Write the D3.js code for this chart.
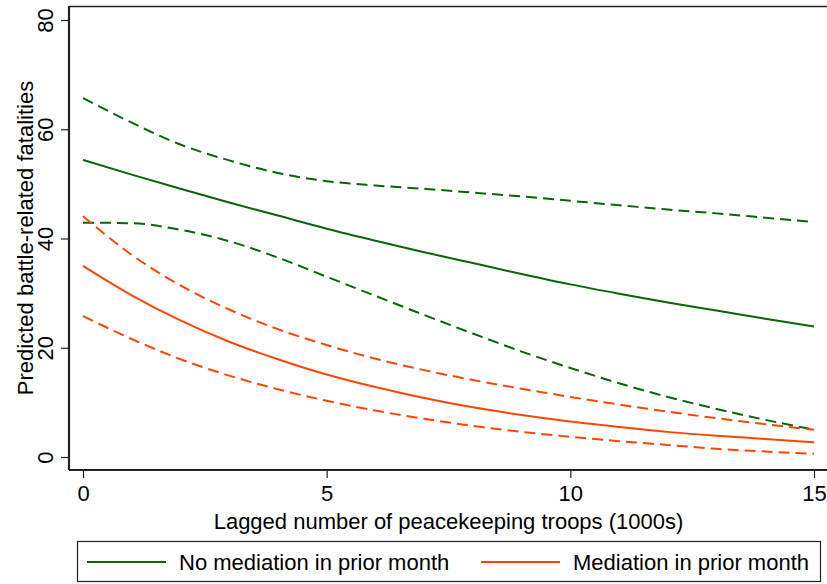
<!DOCTYPE html>
<html>
<head>
<meta charset="utf-8">
<script src="https://cdn.jsdelivr.net/npm/d3@7"></script>
<style>
  body { margin: 0; background: #fff; }
  text { font-family: "Liberation Sans", Arial, Helvetica, sans-serif; fill: #000; }
</style>
</head>
<body>
<div id="chart"></div>
<script>
// troops (1000s)
const troops = [0, 1, 2, 3, 4, 5, 6, 7, 8, 9, 10, 11, 12, 13, 14, 15];

// no mediation in prior month
const noMedFit   = [54.4, 51.7, 49.1, 46.6, 44.2, 41.8, 39.6, 37.5, 35.5, 33.5, 31.6, 29.9, 28.3, 26.8, 25.3, 23.9];
const noMedUpper = [65.7, 61.2, 57.2, 54.3, 52.0, 50.5, 49.7, 49.1, 48.4, 47.7, 46.9, 46.1, 45.3, 44.6, 43.8, 43.0];
const noMedLower = [42.9, 42.8, 41.6, 39.5, 36.5, 33.0, 29.5, 26.0, 22.6, 19.3, 16.3, 13.5, 11.0, 8.8, 6.8, 5.0];

// mediation in prior month
const medFit   = [35.0, 29.6, 25.0, 21.1, 17.9, 15.1, 12.8, 10.8, 9.1, 7.7, 6.5, 5.5, 4.6, 3.9, 3.3, 2.7];
const medUpper = [44.1, 37.0, 31.4, 27.0, 23.4, 20.5, 18.0, 15.9, 14.1, 12.5, 11.0, 9.6, 8.3, 7.1, 6.0, 5.0];
const medLower = [25.8, 21.6, 17.9, 14.9, 12.4, 10.3, 8.5, 7.0, 5.7, 4.6, 3.7, 2.9, 2.2, 1.5, 1.0, 0.6];

const xTicks = [0, 5, 10, 15];
const yTicks = [0, 20, 40, 60, 80];

const green = "#0a640a";
const orange = "#ff4500";

const W = 827, H = 584;
const svg = d3.select("#chart").append("svg")
    .attr("width", W)
    .attr("height", H);

const x = d3.scaleLinear().domain([0, 15]).range([83, 814]);
const y = d3.scaleLinear().domain([0, 80]).range([457, 20]);

const fs = 22;

// plot frame (top border) and axes
svg.append("line")
    .attr("x1", 69).attr("x2", W).attr("y1", 6.5).attr("y2", 6.5)
    .attr("stroke", "#222").attr("stroke-width", 1.6);

const xAxis = svg.append("g")
    .attr("transform", "translate(0,470)")
    .call(d3.axisBottom(x).tickValues(xTicks).tickSize(8).tickPadding(6).tickSizeOuter(0));
xAxis.select(".domain").attr("d", `M69,0H${W}`).attr("stroke", "#222").attr("stroke-width", 2.2);
xAxis.selectAll(".tick line").attr("stroke", "#222").attr("stroke-width", 1.2);
xAxis.selectAll(".tick text").style("font-size", fs + "px").attr("dy", "0.77em");

const yAxis = svg.append("g")
    .attr("transform", "translate(69,0)")
    .call(d3.axisLeft(y).tickValues(yTicks).tickSize(8).tickSizeOuter(0));
yAxis.select(".domain").attr("d", "M0,6V470").attr("stroke", "#222").attr("stroke-width", 2.2);
yAxis.selectAll(".tick line").attr("stroke", "#222").attr("stroke-width", 1.2);
yAxis.selectAll(".tick text")
    .style("font-size", fs + "px")
    .attr("x", null)
    .attr("text-anchor", "middle")
    .attr("transform", "translate(-16,0) rotate(-90)")
    .attr("dy", "0em");

// axis titles
svg.append("text")
    .attr("x", x(7.5)).attr("y", 529)
    .attr("text-anchor", "middle")
    .style("font-size", fs + "px")
    .text("Lagged number of peacekeeping troops (1000s)");

svg.append("text")
    .attr("transform", `translate(33,${(6 + 470) / 2}) rotate(-90)`)
    .attr("text-anchor", "middle")
    .style("font-size", fs + "px")
    .text("Predicted battle-related fatalities");

// curves
const series = [
    {vals: noMedUpper, color: green, dash: "11,6"},
    {vals: noMedLower, color: green, dash: "11,6"},
    {vals: noMedFit, color: green, dash: null},
    {vals: medUpper, color: orange, dash: "11,6"},
    {vals: medLower, color: orange, dash: "11,6"},
    {vals: medFit, color: orange, dash: null}
];

const line = d3.line()
    .x(d => x(d[0]))
    .y(d => y(d[1]))
    .curve(d3.curveMonotoneX);

svg.append("g").selectAll("path")
    .data(series)
    .enter().append("path")
    .attr("d", s => line(troops.map((t, i) => [t, s.vals[i]])))
    .attr("fill", "none")
    .attr("stroke", s => s.color)
    .attr("stroke-width", 2)
    .attr("stroke-dasharray", s => s.dash);

// legend
const legend = svg.append("g");
legend.append("rect")
    .attr("x", 77.5).attr("y", 541.5)
    .attr("width", 743).attr("height", 40)
    .attr("fill", "#fff")
    .attr("stroke", "#222").attr("stroke-width", 1.2);

const legendItems = [
    {label: "No mediation in prior month", color: green, x0: 87, x1: 166, tx: 179},
    {label: "Mediation in prior month", color: orange, x0: 481, x1: 560, tx: 573}
];
legendItems.forEach(d => {
    legend.append("line")
        .attr("x1", d.x0).attr("x2", d.x1)
        .attr("y1", 562).attr("y2", 562)
        .attr("stroke", d.color).attr("stroke-width", 2);
    legend.append("text")
        .attr("x", d.tx).attr("y", 570)
        .style("font-size", fs + "px")
        .text(d.label);
});
</script>
</body>
</html>
